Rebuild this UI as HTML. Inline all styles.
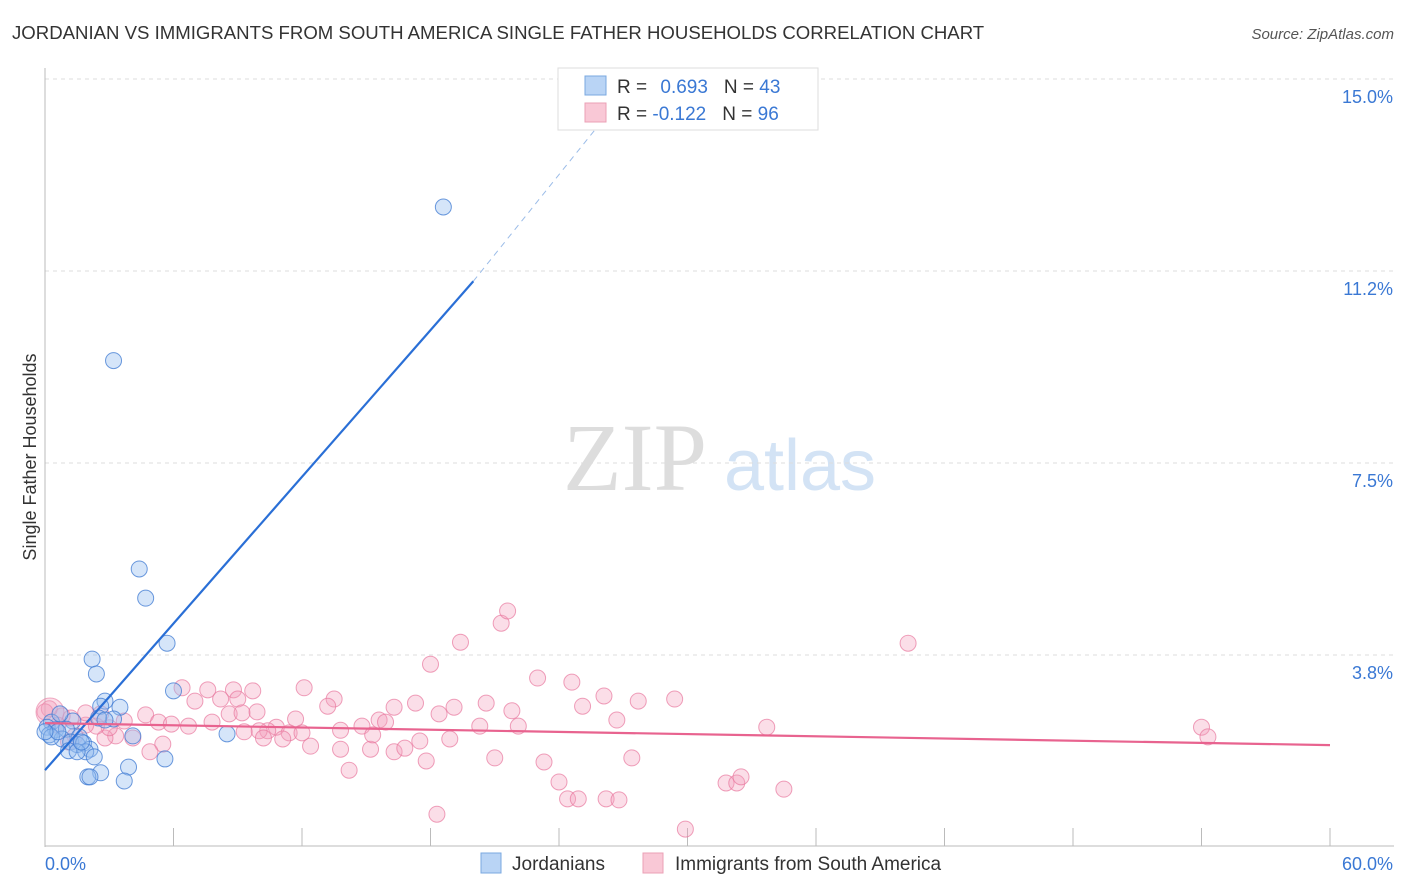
<!DOCTYPE html>
<html><head><meta charset="utf-8"><style>
body{margin:0;background:#fff;font-family:"Liberation Sans",sans-serif;}
#wrap{position:relative;width:1406px;height:892px;overflow:hidden;}
</style></head><body>
<div id="wrap">
<svg id="svg" width="1406" height="892" xmlns="http://www.w3.org/2000/svg">
<text x="12" y="39" font-size="18.6" fill="#333">JORDANIAN VS IMMIGRANTS FROM SOUTH AMERICA SINGLE FATHER HOUSEHOLDS CORRELATION CHART</text>
<text x="1394" y="39" font-size="15" fill="#555" font-style="italic" text-anchor="end">Source: ZipAtlas.com</text>
<text x="36" y="457" font-size="18" fill="#333" text-anchor="middle" transform="rotate(-90 36 457)">Single Father Households</text>
<g><text x="635" y="490" font-size="96" fill="#ddd" font-family="Liberation Serif,serif" text-anchor="middle">ZIP</text><text x="800" y="490" font-size="72" fill="#d3e3f5" text-anchor="middle">atlas</text></g>
<g id="grid"></g><g id="pts"></g><g id="lines"></g>
<g>
<rect x="558" y="68" width="260" height="62" fill="#fff" stroke="#ddd"/>
<rect x="585" y="76" width="21" height="19" fill="#b9d4f5" stroke="#7aa8e0"/>
<rect x="585" y="103" width="21" height="19" fill="#f9c8d6" stroke="#eba0b6"/>
<text x="617" y="93" font-size="19" fill="#333">R = <tspan fill="#3a78d4" dx="8">0.693</tspan><tspan fill="#333" dx="16">N = </tspan><tspan fill="#3a78d4">43</tspan></text>
<text x="617" y="120" font-size="19" fill="#333">R = <tspan fill="#3a78d4">-0.122</tspan><tspan fill="#333" dx="16">N = </tspan><tspan fill="#3a78d4">96</tspan></text>
</g>
<g>
<rect x="481" y="853" width="20" height="20" fill="#b9d4f5" stroke="#7aa8e0"/>
<text x="512" y="870" font-size="19" fill="#333">Jordanians</text>
<rect x="643" y="853" width="20" height="20" fill="#f9c8d6" stroke="#eba0b6"/>
<text x="675" y="870" font-size="19" fill="#333">Immigrants from South America</text>
</g>
</svg>
</div>
<script>
const yTicks=[3.75,7.5,11.25,15.0];
const yTickLabels=["3.8%","7.5%","11.2%","15.0%"];
const xTickLabels=["0.0%","60.0%"];
const blueX=[18.6,3.2,4.4,4.7,5.7,2.2,2.4,6.0,2.8,2.6,3.5,3.2,2.5,1.3,0.3,0.7,0.1,0.5,1.0,8.5,0.2,4.1,1.6,0.8,1.2,1.5,1.8,2.1,1.1,1.9,1.5,2.3,5.6,3.9,2.6,2.0,2.1,3.7,0.3,0.6,0.0,1.7,2.8];
const blueY=[12.5,9.5,5.43,4.86,3.98,3.67,3.38,3.05,2.85,2.75,2.73,2.50,2.52,2.46,2.44,2.60,2.34,2.29,2.30,2.21,2.19,2.17,2.15,2.11,2.05,2.00,2.03,1.91,1.88,1.86,1.86,1.76,1.72,1.56,1.45,1.37,1.37,1.29,2.15,2.25,2.25,2.05,2.48];
const pinkX=[19.4,21.3,21.6,18.0,40.3,23.0,24.6,26.1,27.7,29.4,25.1,26.7,20.6,19.1,18.4,21.8,20.3,22.1,17.3,16.3,15.6,15.9,13.8,14.8,13.5,12.1,13.2,11.7,10.8,11.4,12.4,12.0,13.8,14.2,15.2,15.3,16.3,16.8,17.5,17.8,18.9,21.0,23.3,24.0,24.4,24.9,26.2,26.8,27.4,31.8,32.3,32.5,34.5,33.7,54.0,54.3,18.3,29.9,7.6,8.8,9.7,6.4,7.0,8.2,9.0,4.7,5.3,5.9,6.7,7.8,8.6,9.2,9.9,10.4,10.0,9.3,10.2,11.1,5.5,4.9,4.1,3.3,2.8,3.7,3.0,2.4,1.9,1.2,0.8,0.2,0.0,0.6,1.4,1.1,2.6,1.9];
const pinkY=[4.0,4.37,4.61,3.57,3.98,3.30,3.22,2.95,2.85,2.89,2.75,2.48,2.81,2.73,2.60,2.66,2.36,2.36,2.81,2.73,2.48,2.44,2.28,2.36,2.89,3.11,2.75,2.50,2.34,2.23,1.97,2.23,1.91,1.50,1.91,2.19,1.86,1.93,2.07,1.68,2.11,1.74,1.66,1.27,0.94,0.94,0.94,0.92,1.74,1.25,1.25,1.37,1.13,2.34,2.34,2.15,0.64,0.35,3.07,3.07,3.05,3.11,2.85,2.89,2.89,2.58,2.44,2.40,2.36,2.44,2.60,2.62,2.64,2.27,2.27,2.25,2.13,2.11,2.01,1.86,2.13,2.17,2.13,2.46,2.33,2.36,2.38,2.52,2.56,2.70,2.64,2.38,2.17,2.05,2.60,2.62];
const blueLine=[0,1.5,20,11.05,27.2,14.8];
const pinkLine=[0,2.42,60,1.99];
const X0=45,X1=1330,Y0=847,PX=(X1-X0)/60,PY=192/3.75;
const xs=v=>X0+v*PX, ys=v=>Y0-v*PY;
const NS="http://www.w3.org/2000/svg";
function mk(parent,tag,attrs){const e=document.createElementNS(NS,tag);for(const k in attrs)e.setAttribute(k,attrs[k]);document.getElementById(parent).appendChild(e);return e;}
yTicks.forEach((t,i)=>{
 const g=mk('grid','line',{x1:X0,x2:1394,y1:ys(t),y2:ys(t),stroke:'#ddd','stroke-dasharray':'4,4'});
 
 
 const l=mk('grid','text',{x:1393,y:ys(t)+24,'font-size':18,fill:'#3a78d4','text-anchor':'end'});
 l.textContent=yTickLabels[i];
 
 
});
const ax=mk('grid','line',{x1:X0,x2:X0,y1:68,y2:847,stroke:'#bbb'});


const bx=mk('grid','line',{x1:X0,x2:1394,y1:846,y2:846,stroke:'#bbb'});


for(let i=0;i<=10;i++){
 const t=mk('grid','line',{x1:xs(i*6),x2:xs(i*6),y1:828,y2:846,stroke:'#bbb'});
 
 
}
[[0,'start',45],[60,'end',1393]].forEach((d,i)=>{
 const l=mk('grid','text',{x:d[2],y:870,'font-size':18,fill:'#3a78d4','text-anchor':d[1]});
 l.textContent=xTickLabels[i];
 
 
});
pinkX.forEach((x,i)=>{
 const c=mk('pts','circle',{cx:xs(x),cy:ys(pinkY[i]),r:8,fill:'rgba(244,160,188,0.35)',stroke:'rgba(232,120,158,0.7)','stroke-width':1});
 
 
});
const big=mk('pts','circle',{cx:50,cy:712,r:14,fill:'rgba(244,160,188,0.35)',stroke:'rgba(232,120,158,0.6)'});


blueX.forEach((x,i)=>{
 const c=mk('pts','circle',{cx:xs(x),cy:ys(blueY[i]),r:8,fill:'rgba(150,190,240,0.4)',stroke:'rgba(60,120,210,0.75)','stroke-width':1});
 
 
});
const bl=mk('lines','line',{x1:xs(blueLine[0]),y1:ys(blueLine[1]),x2:xs(blueLine[2]),y2:ys(blueLine[3]),stroke:'#2a6fd6','stroke-width':2.2});


const bd=mk('lines','line',{x1:xs(blueLine[2]),y1:ys(blueLine[3]),x2:xs(blueLine[4]),y2:ys(blueLine[5]),stroke:'#9bbce8','stroke-width':1,'stroke-dasharray':'6,5'});


const pl=mk('lines','line',{x1:xs(pinkLine[0]),y1:ys(pinkLine[1]),x2:xs(pinkLine[2]),y2:ys(pinkLine[3]),stroke:'#e8638f','stroke-width':2.2});


</script>
</body></html>
